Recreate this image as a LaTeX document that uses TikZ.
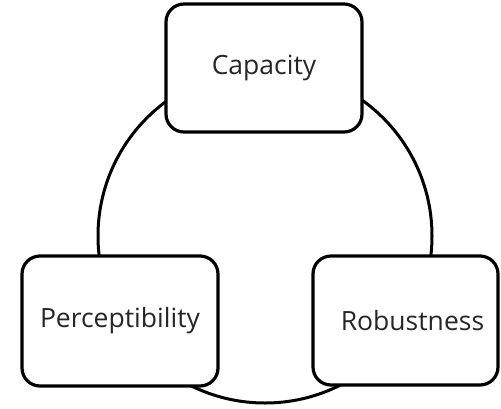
\documentclass[tikz,border=0pt]{standalone}
\usepackage{fontspec}
\setmainfont{Open Sans}
\begin{document}
\begin{tikzpicture}[x=1pt,y=-1pt,
  topic/.style={draw=black, line width=3.2pt, fill=white, rounded corners=18pt,
    inner sep=0pt, font=\fontsize{26.5pt}{30pt}\selectfont, text=black!85},
  ring/.style={draw=black, line width=3pt}]
  \useasboundingbox (0,0) rectangle (501,408);
  % the cycle linking the three properties
  \node[ring, circle, minimum size=334pt, inner sep=0pt] (cycle) at (265,236) {};
  % property boxes
  \node[topic, minimum width=196pt, minimum height=128pt] (cap) at (264,68) {Capacity};
  \node[topic, minimum width=196pt, minimum height=130pt] (per) at (120,321) {Perceptibility};
  \node[topic, minimum width=185pt, minimum height=129pt] (rob) at (405.5,320.5) {\hspace*{14pt}Robustness};
\end{tikzpicture}
\end{document}
